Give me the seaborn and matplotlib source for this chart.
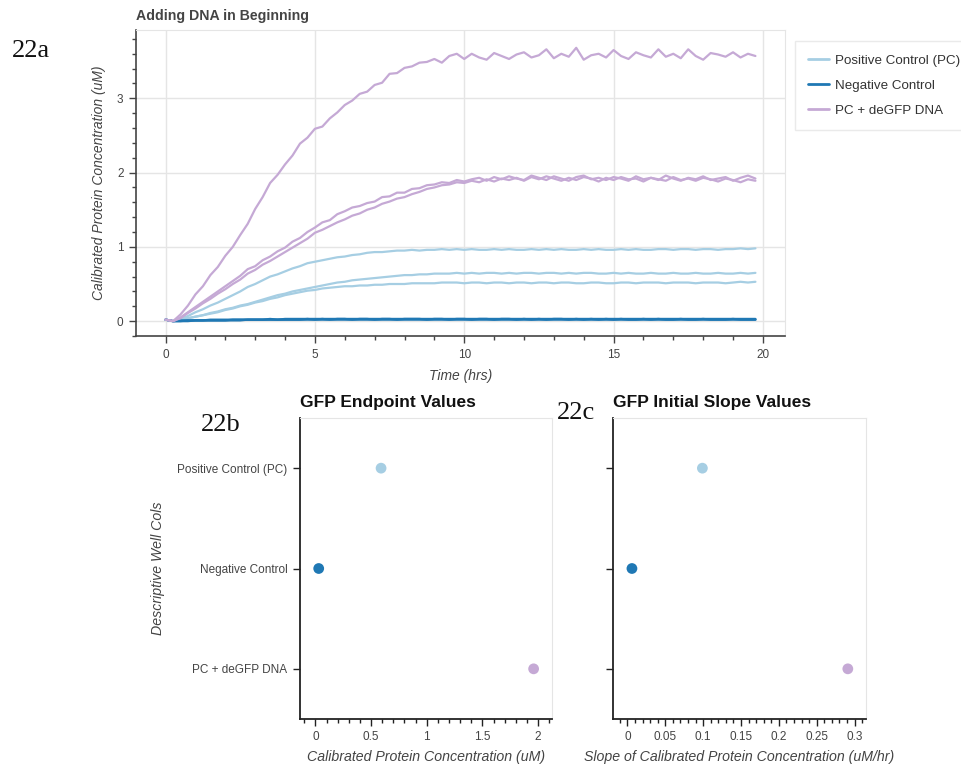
import numpy as np
import pandas as pd
import matplotlib
matplotlib.use("Agg")
import matplotlib.pyplot as plt
from matplotlib.ticker import MultipleLocator, FuncFormatter
import seaborn as sns

# ---------------- data ----------------
TIME_STEP_HRS = 0.25
N_POINTS = 80
time_hrs = np.round(np.arange(N_POINTS) * TIME_STEP_HRS, 2)   # plate-reader sampling grid, 0 .. 19.75 h

GROUPS = ["Positive Control (PC)", "Negative Control", "PC + deGFP DNA"]
COLORS = ["#a6cee3", "#1f78b4", "#c5a9d5"]

# PC + deGFP DNA wells (uM)
degfp_well_1 = [0.02, 0.00, 0.09, 0.21, 0.36, 0.47, 0.62, 0.73, 0.88, 1.00,
                1.16, 1.31, 1.51, 1.67, 1.86, 1.97, 2.11, 2.23, 2.39, 2.47,
                2.59, 2.62, 2.73, 2.81, 2.91, 2.97, 3.06, 3.09, 3.18, 3.21,
                3.33, 3.34, 3.41, 3.43, 3.48, 3.49, 3.53, 3.48, 3.57, 3.60,
                3.53, 3.60, 3.55, 3.52, 3.61, 3.57, 3.53, 3.59, 3.62, 3.55,
                3.58, 3.66, 3.54, 3.60, 3.56, 3.68, 3.52, 3.58, 3.60, 3.55,
                3.65, 3.57, 3.53, 3.62, 3.58, 3.55, 3.66, 3.56, 3.60, 3.54,
                3.66, 3.57, 3.52, 3.61, 3.59, 3.56, 3.62, 3.55, 3.60, 3.57]
degfp_well_2 = [0.02, 0.00, 0.05, 0.12, 0.19, 0.26, 0.33, 0.40, 0.47, 0.54,
                0.61, 0.70, 0.74, 0.82, 0.87, 0.94, 0.99, 1.07, 1.12, 1.20,
                1.26, 1.33, 1.36, 1.44, 1.48, 1.53, 1.55, 1.59, 1.61, 1.67,
                1.68, 1.73, 1.73, 1.78, 1.79, 1.83, 1.84, 1.87, 1.86, 1.90,
                1.88, 1.91, 1.93, 1.89, 1.94, 1.91, 1.95, 1.92, 1.90, 1.96,
                1.93, 1.90, 1.95, 1.92, 1.89, 1.94, 1.96, 1.91, 1.93, 1.90,
                1.94, 1.92, 1.89, 1.95, 1.91, 1.93, 1.90, 1.96, 1.92, 1.89,
                1.93, 1.91, 1.95, 1.90, 1.92, 1.94, 1.89, 1.93, 1.96, 1.92]
degfp_well_3 = [0.02, 0.00, 0.04, 0.11, 0.17, 0.24, 0.30, 0.37, 0.43, 0.50,
                0.56, 0.64, 0.69, 0.76, 0.81, 0.87, 0.93, 0.99, 1.05, 1.11,
                1.19, 1.23, 1.28, 1.33, 1.37, 1.42, 1.45, 1.50, 1.53, 1.58,
                1.61, 1.65, 1.67, 1.71, 1.74, 1.78, 1.80, 1.83, 1.84, 1.87,
                1.86, 1.89, 1.87, 1.91, 1.88, 1.92, 1.90, 1.93, 1.89, 1.94,
                1.91, 1.95, 1.92, 1.89, 1.93, 1.90, 1.94, 1.92, 1.88, 1.93,
                1.90, 1.94, 1.91, 1.92, 1.88, 1.93, 1.91, 1.89, 1.94, 1.90,
                1.92, 1.89, 1.93, 1.91, 1.88, 1.92, 1.90, 1.87, 1.91, 1.89]

# Positive control wells (uM)
pc_well_1 = [0.02, 0.00, 0.03, 0.07, 0.12, 0.16, 0.21, 0.25, 0.30, 0.35,
             0.40, 0.46, 0.50, 0.55, 0.60, 0.63, 0.67, 0.71, 0.74, 0.78,
             0.80, 0.82, 0.84, 0.86, 0.87, 0.89, 0.90, 0.92, 0.93, 0.93,
             0.94, 0.95, 0.95, 0.96, 0.95, 0.96, 0.96, 0.97, 0.96, 0.97,
             0.96, 0.97, 0.96, 0.96, 0.97, 0.96, 0.97, 0.96, 0.96, 0.97,
             0.96, 0.97, 0.96, 0.97, 0.96, 0.96, 0.97, 0.96, 0.97, 0.96,
             0.96, 0.97, 0.96, 0.97, 0.96, 0.96, 0.97, 0.97, 0.96, 0.97,
             0.97, 0.96, 0.97, 0.97, 0.96, 0.97, 0.97, 0.98, 0.97, 0.98]
pc_well_2 = [0.02, 0.00, 0.02, 0.04, 0.06, 0.08, 0.11, 0.13, 0.16, 0.18,
             0.21, 0.23, 0.26, 0.29, 0.32, 0.35, 0.37, 0.40, 0.42, 0.44,
             0.46, 0.48, 0.50, 0.52, 0.53, 0.55, 0.56, 0.57, 0.58, 0.59,
             0.60, 0.61, 0.62, 0.62, 0.63, 0.63, 0.64, 0.64, 0.64, 0.65,
             0.64, 0.65, 0.64, 0.65, 0.65, 0.64, 0.65, 0.64, 0.65, 0.65,
             0.64, 0.65, 0.65, 0.64, 0.65, 0.64, 0.65, 0.65, 0.64, 0.64,
             0.65, 0.64, 0.65, 0.64, 0.64, 0.65, 0.64, 0.64, 0.65, 0.64,
             0.64, 0.65, 0.64, 0.64, 0.65, 0.64, 0.64, 0.65, 0.64, 0.65]
pc_well_3 = [0.02, 0.00, 0.02, 0.04, 0.06, 0.08, 0.10, 0.12, 0.15, 0.17,
             0.20, 0.22, 0.25, 0.27, 0.30, 0.32, 0.35, 0.37, 0.39, 0.41,
             0.42, 0.44, 0.45, 0.46, 0.47, 0.47, 0.48, 0.48, 0.49, 0.49,
             0.50, 0.50, 0.50, 0.51, 0.51, 0.51, 0.51, 0.52, 0.52, 0.52,
             0.51, 0.52, 0.52, 0.51, 0.52, 0.52, 0.51, 0.52, 0.52, 0.51,
             0.52, 0.52, 0.51, 0.52, 0.52, 0.51, 0.51, 0.52, 0.52, 0.51,
             0.51, 0.52, 0.52, 0.51, 0.52, 0.52, 0.52, 0.51, 0.52, 0.52,
             0.52, 0.51, 0.52, 0.52, 0.52, 0.51, 0.52, 0.53, 0.52, 0.53]

# Negative control wells (uM)
neg_well_1 = [0.02, 0.00, 0.01, 0.01, 0.01, 0.01, 0.02, 0.02, 0.02, 0.02,
              0.02, 0.02, 0.02, 0.02, 0.03, 0.02, 0.03, 0.03, 0.03, 0.03,
              0.03, 0.03, 0.03, 0.03, 0.03, 0.03, 0.03, 0.03, 0.03, 0.03,
              0.03, 0.03, 0.03, 0.03, 0.03, 0.03, 0.03, 0.03, 0.03, 0.03,
              0.03, 0.03, 0.03, 0.03, 0.03, 0.03, 0.03, 0.03, 0.03, 0.03,
              0.03, 0.03, 0.03, 0.03, 0.03, 0.03, 0.03, 0.03, 0.03, 0.03,
              0.03, 0.03, 0.03, 0.03, 0.03, 0.03, 0.03, 0.03, 0.03, 0.03,
              0.03, 0.03, 0.03, 0.03, 0.03, 0.03, 0.03, 0.03, 0.03, 0.03]
neg_well_2 = [0.02, 0.00, 0.00, 0.01, 0.01, 0.01, 0.01, 0.01, 0.01, 0.02,
              0.02, 0.02, 0.02, 0.02, 0.02, 0.02, 0.02, 0.02, 0.02, 0.03,
              0.02, 0.03, 0.02, 0.03, 0.03, 0.02, 0.03, 0.03, 0.02, 0.03,
              0.03, 0.02, 0.03, 0.03, 0.03, 0.02, 0.03, 0.03, 0.02, 0.03,
              0.03, 0.02, 0.03, 0.03, 0.02, 0.03, 0.03, 0.02, 0.03, 0.02,
              0.03, 0.02, 0.03, 0.03, 0.02, 0.03, 0.02, 0.03, 0.02, 0.03,
              0.02, 0.03, 0.02, 0.02, 0.03, 0.02, 0.03, 0.02, 0.02, 0.03,
              0.02, 0.02, 0.03, 0.02, 0.02, 0.02, 0.03, 0.02, 0.02, 0.02]
neg_well_3 = [0.02, 0.00, 0.00, 0.00, 0.01, 0.01, 0.01, 0.01, 0.01, 0.01,
              0.01, 0.02, 0.02, 0.02, 0.02, 0.02, 0.02, 0.02, 0.02, 0.02,
              0.02, 0.02, 0.02, 0.02, 0.02, 0.02, 0.02, 0.02, 0.02, 0.02,
              0.02, 0.02, 0.02, 0.02, 0.02, 0.02, 0.02, 0.02, 0.02, 0.02,
              0.02, 0.02, 0.02, 0.02, 0.02, 0.02, 0.02, 0.02, 0.02, 0.02,
              0.02, 0.02, 0.02, 0.02, 0.02, 0.02, 0.02, 0.02, 0.02, 0.02,
              0.02, 0.02, 0.02, 0.02, 0.02, 0.02, 0.02, 0.02, 0.02, 0.02,
              0.02, 0.02, 0.02, 0.02, 0.02, 0.02, 0.02, 0.02, 0.02, 0.02]

WELLS = [
    ("Positive Control (PC)", "PC-1", pc_well_1),
    ("Positive Control (PC)", "PC-2", pc_well_2),
    ("Positive Control (PC)", "PC-3", pc_well_3),
    ("PC + deGFP DNA", "DG-1", degfp_well_1),
    ("PC + deGFP DNA", "DG-2", degfp_well_2),
    ("PC + deGFP DNA", "DG-3", degfp_well_3),
    ("Negative Control", "NC-1", neg_well_1),
    ("Negative Control", "NC-2", neg_well_2),
    ("Negative Control", "NC-3", neg_well_3),
]

ENDPOINT_UM = [0.59, 0.03, 1.96]          # GFP endpoint values (PC, NC, deGFP)
SLOPE_UM_HR = [0.099, 0.006, 0.291]       # GFP initial slope values

# ---------------- styling ----------------
sns.set_style("white")
plt.rcParams["font.family"] = ["Liberation Sans", "DejaVu Sans"]

W, H = 962, 766
fig = plt.figure(figsize=(W / 100, H / 100), dpi=100)
palette = dict(zip(GROUPS, COLORS))

def frac_axes(x0, y0, x1, y1):
    return fig.add_axes([x0 / W, 1 - y1 / H, (x1 - x0) / W, (y1 - y0) / H])

DARK = "#444444"
OUTLINE = "#e5e5e5"

# ---------------- 22a: time course ----------------
rows = []
for grp, well, vals in WELLS:
    for t, v in zip(time_hrs, vals):
        rows.append((grp, well, t, v))
df = pd.DataFrame(rows, columns=["group", "well", "time", "conc"])

ax1 = frac_axes(136, 30, 785, 336)
sns.lineplot(data=df, x="time", y="conc", hue="group", units="well", estimator=None,
             hue_order=GROUPS, palette=palette, lw=1.6, sort=False, ax=ax1)
ax1.set_xlim(-0.99, 20.74)
ax1.set_ylim(-0.2, 3.92)
ax1.xaxis.set_major_locator(MultipleLocator(5))
ax1.xaxis.set_minor_locator(MultipleLocator(1))
ax1.yaxis.set_major_locator(MultipleLocator(1))
ax1.yaxis.set_minor_locator(MultipleLocator(0.2))
ax1.grid(True, which="major", color=OUTLINE, lw=1)
ax1.set_axisbelow(True)
for s in ["top", "right"]:
    ax1.spines[s].set_color(OUTLINE)
for s in ["left", "bottom"]:
    ax1.spines[s].set_color(DARK)
    ax1.spines[s].set_linewidth(1.2)
ax1.tick_params(which="major", direction="out", length=5, width=1, color=DARK,
                labelsize=8.5, labelcolor=DARK, pad=4, left=True, bottom=True)
ax1.tick_params(which="minor", direction="out", length=3, width=1, color=DARK,
                left=True, bottom=True)
ax1.set_xlabel("Time (hrs)", fontsize=10, style="italic", color=DARK, labelpad=6)
ax1.set_ylabel("Calibrated Protein Concentration (uM)", fontsize=10, style="italic",
               color=DARK, labelpad=8)
ax1.set_title("Adding DNA in Beginning", loc="left", fontsize=10.2, fontweight="bold",
              color=DARK, pad=7)

handles, labels = ax1.get_legend_handles_labels()
ax1.get_legend().remove()
leg = ax1.legend(handles, labels, loc="upper left", bbox_to_anchor=(795 / W, 1 - 41 / H),
                 bbox_transform=fig.transFigure, frameon=True, fancybox=False,
                 edgecolor=OUTLINE, fontsize=9.6, handlelength=1.55, handletextpad=0.45,
                 labelspacing=0.95, borderpad=1.0, borderaxespad=0)
leg.get_frame().set_linewidth(1)
for ln in leg.get_lines():
    ln.set_linewidth(2)
for tx in leg.get_texts():
    tx.set_color("#333333")

# ---------------- 22b / 22c: dot plots ----------------
def dot_axes(ax, values, xlim, major, minor, title, xlabel, show_cats):
    sns.scatterplot(x=values, y=GROUPS, hue=GROUPS, palette=palette, s=60,
                    edgecolor="none", legend=False, ax=ax)
    ax.set_xlim(*xlim)
    ax.set_ylim(2.5, -0.5)
    ax.xaxis.set_major_locator(MultipleLocator(major))
    ax.xaxis.set_minor_locator(MultipleLocator(minor))
    ax.xaxis.set_major_formatter(FuncFormatter(lambda v, p: f"{v:g}" if abs(v) > 1e-9 else "0"))
    ax.grid(False)
    for s in ["top", "right"]:
        ax.spines[s].set_color(OUTLINE)
    for s in ["left", "bottom"]:
        ax.spines[s].set_color("#222222")
        ax.spines[s].set_linewidth(1.3)
    ax.tick_params(which="major", direction="out", length=5, width=1, color="#222222",
                   labelsize=8.5, labelcolor=DARK, pad=4, left=True, bottom=True)
    ax.tick_params(axis="x", which="minor", direction="out", length=3, width=1,
                   color="#222222", bottom=True)
    if not show_cats:
        ax.set_yticklabels([])
    ax.set_xlabel(xlabel, fontsize=10.2, style="italic", color=DARK, labelpad=5)
    ax.set_title(title, loc="left", fontsize=12.5, fontweight="bold", color="#111111", pad=8)

ax2 = frac_axes(300, 418, 552, 719)
dot_axes(ax2, ENDPOINT_UM, (-0.138, 2.125), 0.5, 0.1, "GFP Endpoint Values",
         "Calibrated Protein Concentration (uM)", True)
ax2.set_ylabel("Descriptive Well Cols", fontsize=10.2, style="italic", color=DARK, labelpad=9)

ax3 = frac_axes(613, 418, 866, 719)
dot_axes(ax3, SLOPE_UM_HR, (-0.019, 0.315), 0.05, 0.01, "GFP Initial Slope Values",
         "Slope of Calibrated Protein Concentration (uM/hr)", False)
ax3.set_ylabel("")

# ---------------- panel labels ----------------
serif = ["Liberation Serif", "DejaVu Serif"]
fig.text(12 / W, 1 - 57 / H, "22a", fontsize=19, family=serif, color="#111111")
fig.text(201 / W, 1 - 431 / H, "22b", fontsize=19, family=serif, color="#111111")
fig.text(557 / W, 1 - 419 / H, "22c", fontsize=19, family=serif, color="#111111")

fig.savefig("out.png", dpi=100, facecolor="white")
